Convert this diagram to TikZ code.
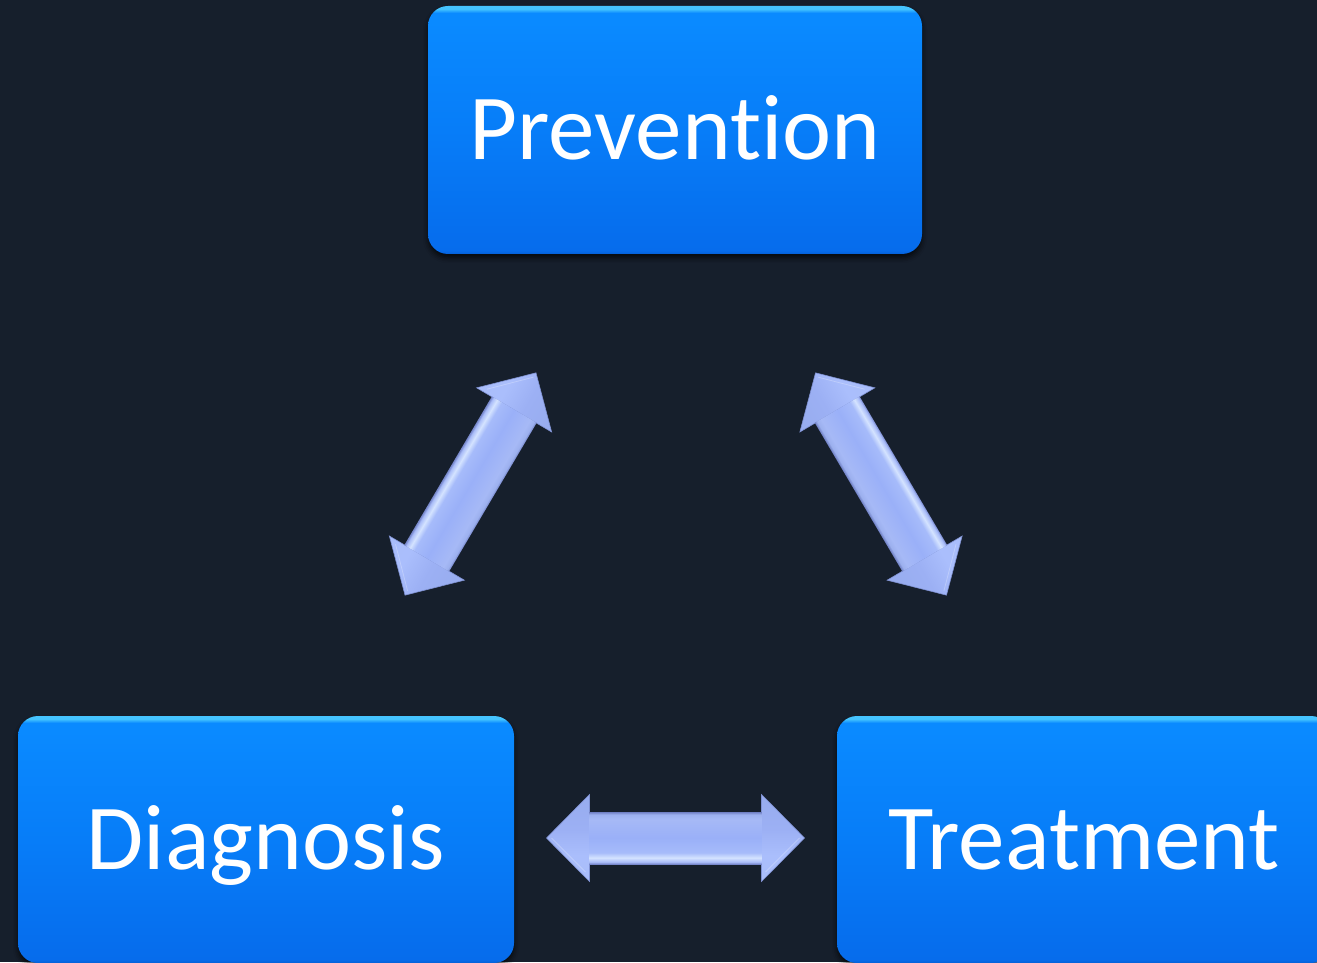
\documentclass[tikz,border=0pt]{standalone}
\usepackage{fontspec}
\setmainfont{Carlito}[Ligatures=NoCommon]
\usetikzlibrary{shadows.blur}

\definecolor{bg}{HTML}{161F2C}
\definecolor{boxedge}{HTML}{0560D6}
\definecolor{boxbot}{HTML}{066CEC}
\definecolor{boxmid}{HTML}{077DF8}
\definecolor{boxtop}{HTML}{0A8AFF}
\definecolor{boxhi}{HTML}{45C4FF}
\definecolor{arrowline}{HTML}{7F91D2}
\definecolor{headlo}{HTML}{A9BDFA}
\definecolor{headhi}{HTML}{97ACEE}

% box fill: bottom (25bp) to top (75bp)
\pgfdeclareverticalshading{boxshade}{100bp}{%
  color(0bp)=(boxedge); color(25bp)=(boxedge); color(25.7bp)=(boxbot);
  color(50bp)=(boxmid); color(72bp)=(boxtop); color(73.6bp)=(boxtop);
  color(74.4bp)=(boxhi); color(100bp)=(boxhi)}

% arrow shaft: bevel across its width, highlight on the lower side
\pgfdeclareverticalshading{shaftshade}{100bp}{%
  color(0bp)=(rgb,255:red,120;green,136;blue,204);
  color(25bp)=(rgb,255:red,120;green,136;blue,204);
  color(27bp)=(rgb,255:red,169;green,188;blue,248);
  color(31bp)=(rgb,255:red,212;green,227;blue,255);
  color(36bp)=(rgb,255:red,166;green,187;blue,250);
  color(50bp)=(rgb,255:red,154;green,176;blue,248);
  color(68bp)=(rgb,255:red,166;green,185;blue,246);
  color(72.5bp)=(rgb,255:red,156;green,176;blue,238);
  color(75bp)=(rgb,255:red,112;green,128;blue,196);
  color(100bp)=(rgb,255:red,112;green,128;blue,196)}

% arrow heads: plain soft gradient
\pgfdeclareverticalshading{headshade}{100bp}{%
  color(0bp)=(headlo); color(25bp)=(headlo); color(40bp)=(rgb,255:red,170;green,190;blue,252);
  color(55bp)=(rgb,255:red,156;green,176;blue,244); color(75bp)=(headhi); color(100bp)=(headhi)}

\tikzset{
  stagebox/.style={rounded corners=20pt, inner sep=0pt, shading=boxshade,
    text=white, font=\fontsize{93}{100}\selectfont,
    text height=60pt, text depth=0pt,
    blur shadow={shadow xshift=0pt, shadow yshift=-4pt,
      shadow blur radius=5pt, shadow opacity=70}},
  pics/dblarrow/.style={code={
    % the two heads
    \shadedraw[shading=headshade, draw=arrowline, line width=0.6pt, line join=miter]
      (-129,0) -- (-86,43.5) -- (-86,-43.5) -- cycle;
    \shadedraw[shading=headshade, draw=arrowline, line width=0.6pt, line join=miter]
      (129,0) -- (86,43.5) -- (86,-43.5) -- cycle;
    % facet lines on the heads
    \draw[white, opacity=.25, line width=0.8pt] (-124,0) -- (-90,-34) (124,0) -- (90,-34);
    % the shaft
    \shade[shading=shaftshade] (-86.3,-26) rectangle (86.3,26);
  }}
}

\begin{document}
\begin{tikzpicture}[x=1pt, y=1pt]
  \useasboundingbox (0,0) rectangle (1317,962);
  \fill[bg] (0,0) rectangle (1317,962);
  \clip (0,0) rectangle (1317,962);

  % the three stages
  \node[stagebox, minimum width=494pt, minimum height=248pt] (prev) at (675,832) {Prevention};
  \node[stagebox, minimum width=496pt, minimum height=247pt] (diag) at (266,122.5) {Diagnosis};
  \node[stagebox, minimum width=494pt, minimum height=247pt] (treat) at (1084,122.5) {Treatment};

  % centres of the two-way arrows between the stages
  \coordinate (dp) at (470.5,478);
  \coordinate (pt) at (881,478);
  \coordinate (dt) at (675.5,124);

  \begin{scope}[transform canvas={shift={(dp)}, rotate=239.5}]
    \pic {dblarrow};
  \end{scope}
  \begin{scope}[transform canvas={shift={(pt)}, rotate=120.5}]
    \pic {dblarrow};
  \end{scope}
  \begin{scope}[transform canvas={shift={(dt)}}]
    \pic {dblarrow};
  \end{scope}
\end{tikzpicture}
\end{document}
